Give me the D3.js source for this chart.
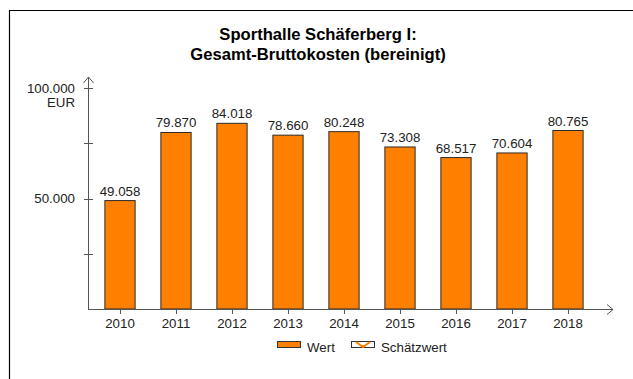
<!DOCTYPE html>
<html>
<head>
<meta charset="utf-8">
<script src="https://cdn.jsdelivr.net/npm/d3@7"></script>
<style>
  html, body { margin: 0; padding: 0; background: #fff; }
  svg { display: block; font-family: "Liberation Sans", Arial, sans-serif; }
</style>
</head>
<body>
<svg id="chart" width="633" height="379"></svg>
<script>
// Gesamt-Bruttokosten je Jahr (EUR)
const years = ["2010", "2011", "2012", "2013", "2014", "2015", "2016", "2017", "2018"];
const values = [49058, 79870, 84018, 78660, 80248, 73308, 68517, 70604, 80765];
const yTickValues = [0, 25000, 50000, 75000, 100000];
const yTickLabels = ["", "", "50.000", "", "100.000"];
const titleLines = ["Sporthalle Schäferberg I:", "Gesamt-Bruttokosten (bereinigt)"];
const legendItems = ["Wert", "Schätzwert"];

const svg = d3.select("#chart");
const axisColor = "#555";
const barColor = "#FF8000";
const textColor = "#222";
const fs = 13.3;
const fmt = v => d3.format(",")(v).replace(/,/g, ".");

// outer frame (top and left edges)
svg.append("path")
  .attr("d", "M9.5,379 V10.5 H633")
  .attr("fill", "none").attr("stroke", "#000").attr("stroke-width", 1.2);

// title
svg.append("g").selectAll("text").data(titleLines).join("text")
  .attr("x", 318).attr("y", (d, i) => 40 + i * 20)
  .attr("text-anchor", "middle")
  .attr("font-weight", "bold").attr("font-size", 16.6)
  .attr("fill", "#000")
  .text(d => d);

const x0 = 88, yBase = 309;
const x = d3.scaleBand().domain(years).range([92, 596]).paddingInner(0.46).paddingOuter(0.23);
const y = d3.scaleLinear().domain([0, 100000]).range([yBase, 88]);

// bars
svg.append("g").selectAll("rect").data(values).join("rect")
  .attr("x", (d, i) => x(years[i]))
  .attr("y", d => y(d))
  .attr("width", x.bandwidth())
  .attr("height", d => yBase - y(d))
  .attr("fill", barColor)
  .attr("stroke", "#2a2a2a").attr("stroke-width", 1);

// value labels
svg.append("g").selectAll("text").data(values).join("text")
  .attr("x", (d, i) => x(years[i]) + x.bandwidth() / 2)
  .attr("y", d => y(d) - 5)
  .attr("text-anchor", "middle")
  .attr("font-size", fs).attr("fill", textColor)
  .text(d => fmt(d));

// y axis
const yAxis = svg.append("g").attr("transform", `translate(${x0},0)`);
yAxis.append("line").attr("x1", 0.5).attr("x2", 0.5).attr("y1", yBase).attr("y2", 77)
  .attr("stroke", axisColor);
yAxis.append("path").attr("d", "M-4.5,83 L0.5,77 L5.5,83")
  .attr("fill", "none").attr("stroke", axisColor);
yAxis.selectAll("line.tick").data(yTickValues.filter(v => v > 0)).join("line")
  .attr("class", "tick")
  .attr("x1", -4).attr("x2", 5)
  .attr("y1", d => Math.round(y(d)) + 0.5).attr("y2", d => Math.round(y(d)) + 0.5)
  .attr("stroke", axisColor);
yAxis.selectAll("text.lbl").data(yTickValues).join("text")
  .attr("class", "lbl")
  .attr("x", -13).attr("y", d => y(d) + 4.5)
  .attr("text-anchor", "end").attr("font-size", fs).attr("fill", textColor)
  .text((d, i) => yTickLabels[i]);
yAxis.append("text")
  .attr("x", -13).attr("y", y(100000) + 19)
  .attr("text-anchor", "end").attr("font-size", fs).attr("fill", textColor)
  .text("EUR");

// x axis
const xAxis = svg.append("g");
xAxis.append("line").attr("x1", x0).attr("x2", 613).attr("y1", yBase + 0.5).attr("y2", yBase + 0.5)
  .attr("stroke", axisColor);
xAxis.append("path").attr("d", `M607,${yBase - 4.5} L613,${yBase + 0.5} L607,${yBase + 5.5}`)
  .attr("fill", "none").attr("stroke", axisColor);
xAxis.selectAll("line.tick").data(years).join("line")
  .attr("class", "tick")
  .attr("x1", d => Math.round(x(d) + x.bandwidth() / 2) + 0.5)
  .attr("x2", d => Math.round(x(d) + x.bandwidth() / 2) + 0.5)
  .attr("y1", yBase - 1).attr("y2", yBase + 5)
  .attr("stroke", axisColor);
xAxis.selectAll("text").data(years).join("text")
  .attr("x", d => x(d) + x.bandwidth() / 2)
  .attr("y", yBase + 19)
  .attr("text-anchor", "middle").attr("font-size", fs).attr("fill", textColor)
  .text(d => d);

// legend
const lg = svg.append("g");
lg.append("rect").attr("x", 277.5).attr("y", 341.5).attr("width", 23).attr("height", 6)
  .attr("fill", barColor).attr("stroke", "#333");
lg.append("text").attr("x", 307).attr("y", 352).attr("font-size", fs).attr("fill", textColor)
  .text(legendItems[0]);
lg.append("rect").attr("x", 351.5).attr("y", 341.5).attr("width", 23).attr("height", 6)
  .attr("fill", "#fff").attr("stroke", "#333");
lg.append("path").attr("d", "M356,342 L363,347 L370,342")
  .attr("fill", "none").attr("stroke", barColor).attr("stroke-width", 2);
lg.append("path").attr("d", "M363,345 L363,348")
  .attr("fill", "none").attr("stroke", barColor).attr("stroke-width", 2);
lg.append("text").attr("x", 381).attr("y", 352).attr("font-size", fs).attr("fill", textColor)
  .text(legendItems[1]);
</script>
</body>
</html>
